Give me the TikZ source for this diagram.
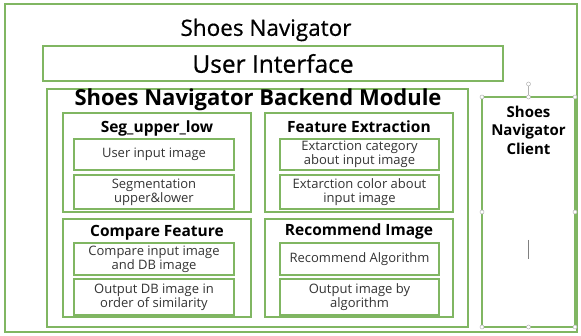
\documentclass[tikz,border=0pt]{standalone}
\usepackage{fontspec}
\setmainfont{Open Sans}
\newfontfamily\semifont[FakeBold=0.6]{Open Sans}
\usepackage{xcolor}
\definecolor{boxgreen}{RGB}{128,182,98}

\begin{document}
\begin{tikzpicture}[
    x=1pt, y=-1pt,
    every node/.style={align=center, inner sep=0pt, outer sep=0pt},
    frame/.style={rectangle, draw=boxgreen, line width=2pt},
    group/.style={rectangle, draw=boxgreen, line width=1.6pt},
    item/.style={rectangle, draw=boxgreen, line width=1.6pt, text=black!80, font=\fontsize{13}{14}\selectfont},
    head/.style={font=\bfseries\fontsize{15.5}{17}\selectfont},
    handle/.style={circle, draw=gray!60, fill=white, line width=0.5pt, minimum size=4pt}
]
\useasboundingbox (0,0) rectangle (581,336);

% System frame and user interface
\node[frame, minimum width=572, minimum height=328] (system) at (291, 168) {};
\node[font=\semifont\fontsize{22.5}{24}\selectfont] (title) at (266, 30) {Shoes Navigator};
\node[frame, minimum width=460, minimum height=35, font=\semifont\fontsize{24.5}{27}\selectfont] (ui) at (273, 63.5) {User Interface};

% Backend module
\node[frame, minimum width=421, minimum height=238] (backend) at (257.5, 208) {};
\node[font=\bfseries\fontsize{22}{24}\selectfont] (backtitle) at (258, 100) {Shoes Navigator Backend Module};

% Seg_upper_low
\node[group, minimum width=188, minimum height=99] (seg) at (157, 162.5) {};
\node[head] (segtitle) at (157, 128) {Seg\_upper\_low};
\node[item, minimum width=160, minimum height=31] (userinput) at (154, 154.5) {User input image};
\node[item, minimum width=160, minimum height=34] (segment) at (154, 192) {Segmentation\\upper\&lower};

% Feature Extraction
\node[group, minimum width=188, minimum height=99] (feature) at (359, 162.5) {};
\node[head] (featuretitle) at (359, 127) {Feature Extraction};
\node[item, minimum width=159, minimum height=31] (category) at (359.5, 154.5) {Extarction category\\about input image};
\node[item, minimum width=159, minimum height=34] (color) at (359.5, 192) {Extarction color about\\input image};

% Compare Feature
\node[group, minimum width=188, minimum height=98] (compare) at (157, 268) {};
\node[head] (comparetitle) at (157, 233) {Compare Feature};
\node[item, minimum width=160, minimum height=32] (compareimg) at (154, 259) {Compare input image\\and DB image};
\node[item, minimum width=160, minimum height=36] (outputdb) at (154, 297) {Output DB image in\\order of similarity};

% Recommend Image
\node[group, minimum width=188, minimum height=98] (recommend) at (359, 268) {};
\node[head] (recommendtitle) at (359, 231) {Recommend Image};
\node[item, minimum width=159, minimum height=32] (algorithm) at (359.5, 259) {Recommend Algorithm};
\node[item, minimum width=159, minimum height=36] (outputimg) at (359.5, 297) {Output image by\\algorithm};

% Client
\node[frame, minimum width=93, minimum height=230] (client) at (528.5, 212) {};
\node[font=\bfseries\fontsize{15}{18.5}\selectfont, anchor=north] (clienttitle) at (528.5, 106) {Shoes\\Navigator\\Client};

% selection handles
\node[handle] (rot) at (528.5, 84) {};
\draw[gray!60, line width=0.5pt] (rot) -- (client.north);
\foreach \a in {north west, north, north east, west, east, south west, south, south east}
  \node[handle] at (client.\a) {};
\coordinate (cursortop) at (528.5, 240);
\coordinate (cursorbot) at (528.5, 259);
\draw[gray, line width=0.6pt] (cursortop) -- (cursorbot);

\end{tikzpicture}
\end{document}
